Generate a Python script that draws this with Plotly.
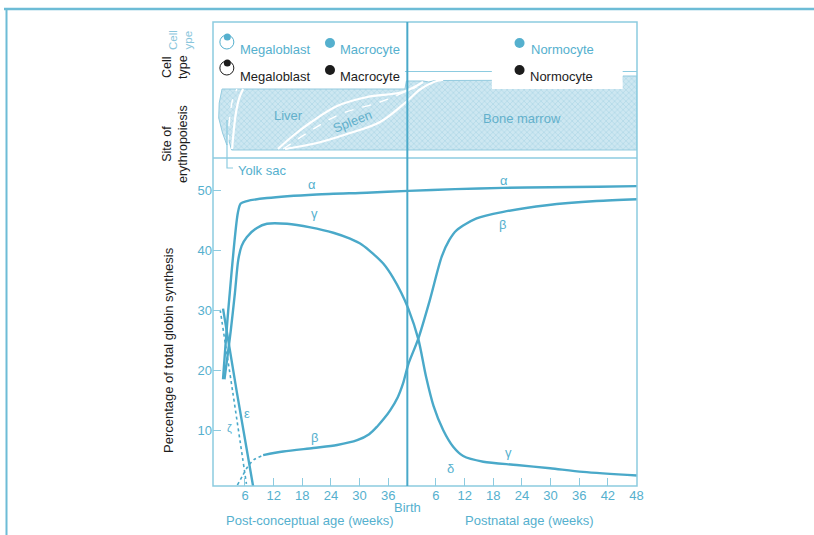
import plotly.graph_objects as go

# ---------------- data (weeks since conception, % of total globin synthesis) ----------------
alpha_weeks = [1.4, 2.6, 4.5, 5.1, 6.4, 10.6, 21.0, 31.5, 40.2, 50.0, 60.0, 70.0, 80.0, 88.1]
alpha_pct = [18.5, 31.0, 46.3, 47.9, 48.3, 48.8, 49.4, 49.7, 50.0, 50.3, 50.5, 50.6, 50.7, 50.8]

gamma_weeks = [1.7, 3.0, 3.9, 4.6, 5.3, 6.4, 8.5, 10.6, 14.8, 19.7, 24.5, 28.0, 30.5, 32.8, 35.0,
               37.0, 38.7, 40.2, 42.3, 43.9, 45.5, 47.5, 49.6, 51.7, 55.9, 62.9, 69.9, 76.8, 88.1]
gamma_pct = [18.5, 26.5, 33.0, 38.5, 40.8, 42.3, 43.8, 44.5, 44.5, 43.9, 43.0, 42.0, 41.0, 39.5, 37.8,
             35.5, 33.0, 30.3, 25.2, 19.0, 14.0, 10.0, 7.2, 5.65, 4.7, 4.15, 3.6, 3.0, 2.4]

beta_weeks = [9.8, 14.0, 20.3, 25.3, 29.5, 32.0, 33.7, 35.2, 36.4, 38.0, 39.1, 40.2, 42.3, 44.7,
              47.2, 48.8, 50.3, 54.5, 60.1, 69.2, 79.6, 88.1]
beta_pct = [5.8, 6.4, 7.0, 7.5, 8.3, 9.3, 10.6, 12.0, 13.3, 15.5, 17.8, 21.0, 25.3, 31.7,
            39.0, 41.8, 43.4, 45.4, 46.5, 47.6, 48.3, 48.6]

beta_early_weeks = [4.4, 5.6, 6.6, 7.8, 9.8]
beta_early_pct = [0.8, 2.5, 3.9, 5.0, 5.8]

epsilon_weeks = [1.4, 4.3, 7.7]
epsilon_pct = [30.3, 16.3, 0.6]

zeta_weeks = [0.8, 3.5, 6.3]
zeta_pct = [30.1, 16.0, 1.0]

prenatal_ticks = [6, 12, 18, 24, 30, 36]
postnatal_ticks = [6, 12, 18, 24, 30, 36, 42, 48]
birth_week = 40
y_ticks = [10, 20, 30, 40, 50]

# ---------------- schematic top panel (weeks, relative height in panel) ----------------
site_weeks = [1.2, 0.6, 0.5, 1.3, 2.2, 2.6, 3.2, 88.1, 88.1, 85.1, 85.1, 46.9, 45.8, 44.5, 43.3, 39.8, 39.5, 1.2]
site_height = [69, 55, 40, 25, 13, 18, 8, 8, 82, 82, 78, 78, 77.5, 76, 77, 77, 69, 69]

yolk_liver_weeks = [3.3, 3.6, 4.1, 4.8, 5.6]
yolk_liver_height = [9, 25, 45, 60, 69]
yolk_inner_weeks = [2.4, 2.6, 3.0, 3.5, 4.3]
yolk_inner_height = [14, 30, 48, 60, 69]

spleen_upper_weeks = [12.9, 16.0, 19.6, 25.3, 31.6, 39.1, 43.3]
spleen_upper_height = [9, 22, 35, 52, 61, 66, 76]
spleen_dash_weeks = [14.0, 20.0, 26.0, 34.3, 41.9]
spleen_dash_height = [9, 28, 44, 56, 71]
marrow_edge_weeks = [14.4, 21.1, 28.0, 34.3, 40.2, 42.5, 45.8, 47.5]
marrow_edge_height = [9, 15, 25, 36, 58, 68, 76.5, 78]

top_rule_weeks = [39.5, 88.1]
top_rule_height = [86.5, 86.5]
normo_box_weeks = [57.7, 85.1, 85.1, 57.7, 57.7]
normo_box_height = [69, 69, 92, 92, 69]

cell_labels = ["Megaloblast", "Macrocyte", "Normocyte"]
cell_label_weeks = [4.5, 25.5, 65.4]
cell_dot_weeks = [23.8, 63.5]

LINE = "#4aa9c9"
TXT = "#55b0ce"
BOX = "#8ccbe0"
BLK = "#1c1c1c"
FONT = "Liberation Sans, Arial, sans-serif"

W, H = 814, 535
L, R, T, B = 213, 177, 22, 49
PW, PH = W - L - R, H - T - B


def px(xp):
    return (xp - L) / PW


def py(yp):
    return (H - B - yp) / PH


split = py(158)

fig = go.Figure()

# ---------------- top panel ----------------
fig.add_trace(go.Scatter(
    x=site_weeks, y=site_height, xaxis="x", yaxis="y2", mode="lines", fill="toself",
    line=dict(color="#94cbdf", width=1), fillcolor="#c8e3ee",
    fillpattern=dict(shape="x", size=4, solidity=0.4, fgcolor="#9ccfe1", bgcolor="#cde7f1"),
    hoverinfo="skip", showlegend=False))

fig.add_trace(go.Scatter(x=top_rule_weeks, y=top_rule_height, xaxis="x", yaxis="y2", mode="lines",
                         line=dict(color=BOX, width=1.2), hoverinfo="skip", showlegend=False))
fig.add_trace(go.Scatter(x=normo_box_weeks, y=normo_box_height, xaxis="x", yaxis="y2", mode="lines",
                         fill="toself", fillcolor="white", line=dict(color="white", width=0),
                         hoverinfo="skip", showlegend=False))

for wx, hy, dash, wd in [
    (yolk_liver_weeks, yolk_liver_height, "solid", 2.2),
    (yolk_inner_weeks, yolk_inner_height, "dash", 1.4),
    (spleen_upper_weeks, spleen_upper_height, "solid", 2.2),
    (spleen_dash_weeks, spleen_dash_height, "dash", 1.4),
    (marrow_edge_weeks, marrow_edge_height, "solid", 2.2),
]:
    fig.add_trace(go.Scatter(x=wx, y=hy, xaxis="x", yaxis="y2", mode="lines",
                             line=dict(color="white", width=wd, dash=dash, shape="spline", smoothing=1.0),
                             hoverinfo="skip", showlegend=False))

# legend-like cell symbols (blue row, black row)
for col, ring_y, dot_y, row_y in [(TXT, 116, 121, 115), (BLK, 90, 95, 88)]:
    fig.add_trace(go.Scatter(x=[2.2], y=[ring_y], xaxis="x", yaxis="y2", mode="markers",
                             marker=dict(symbol="circle-open", size=14, color=col, line=dict(width=1)),
                             hoverinfo="skip", showlegend=False))
    fig.add_trace(go.Scatter(x=[2.3], y=[dot_y], xaxis="x", yaxis="y2", mode="markers",
                             marker=dict(symbol="circle", size=7, color=col),
                             hoverinfo="skip", showlegend=False))
    fig.add_trace(go.Scatter(x=cell_dot_weeks, y=[row_y, row_y], xaxis="x", yaxis="y2", mode="markers",
                             marker=dict(symbol="circle", size=10, color=col),
                             hoverinfo="skip", showlegend=False))

# ---------------- main globin chart ----------------
def curve(xs, ys, dash="solid", width=2.4):
    fig.add_trace(go.Scatter(x=xs, y=ys, mode="lines",
                             line=dict(color=LINE, width=width, dash=dash, shape="spline", smoothing=0.8),
                             hoverinfo="skip", showlegend=False))


curve(alpha_weeks, alpha_pct)
curve(gamma_weeks, gamma_pct)
curve(beta_weeks, beta_pct)
curve(beta_early_weeks, beta_early_pct, dash="dot", width=1.6)
curve(epsilon_weeks, epsilon_pct)
curve(zeta_weeks, zeta_pct, dash="dot", width=1.6)

tickvals = prenatal_ticks + [birth_week + t for t in postnatal_ticks]
ticktext = [str(t) for t in prenatal_ticks] + [str(t) for t in postnatal_ticks]

fig.update_layout(
    width=W, height=H, margin=dict(l=L, r=R, t=T, b=B),
    paper_bgcolor="white", plot_bgcolor="white",
    font=dict(family=FONT, size=13, color=TXT),
    xaxis=dict(range=[-0.7, 88.1], tickvals=tickvals, ticktext=ticktext, ticks="inside", ticklen=8,
               tickcolor=BOX, tickwidth=1.2, showgrid=False, zeroline=False, showline=False,
               tickfont=dict(size=13, color=TXT), anchor="y"),
    yaxis=dict(domain=[0, split], range=[0.64, 55.5], tickvals=y_ticks, ticks="inside", ticklen=8,
               tickcolor=BOX, tickwidth=1.2, showgrid=False, zeroline=False, showline=False,
               tickfont=dict(size=13, color=TXT)),
    yaxis2=dict(domain=[split, 1], range=[0, 136], visible=False, anchor="x"),
)

shapes = [
    dict(type="rect", xref="paper", yref="paper", x0=0, x1=1, y0=0, y1=1,
         line=dict(color=BOX, width=1.5), layer="above"),
    dict(type="line", xref="paper", yref="paper", x0=0, x1=1, y0=split, y1=split,
         line=dict(color=BOX, width=1.5), layer="above"),
    dict(type="line", xref="x", yref="paper", x0=birth_week, x1=birth_week, y0=0, y1=1,
         line=dict(color=LINE, width=2), layer="above"),
    dict(type="line", xref="paper", yref="paper", x0=px(4), x1=px(814), y0=py(9), y1=py(9),
         line=dict(color="#6dbcd6", width=2.5), layer="above"),
    dict(type="line", xref="paper", yref="paper", x0=px(6.5), x1=px(6.5), y0=py(9), y1=py(540),
         line=dict(color="#6dbcd6", width=2), layer="above"),
    dict(type="path", xref="paper", yref="paper",
         path=f"M {px(227)} {py(120)} L {px(227)} {py(168)} L {px(233)} {py(168)}",
         line=dict(color=BOX, width=1.2), layer="above"),
]
fig.update_layout(shapes=shapes)

ann = []


def note(text, x, y, xref="x", yref="y", color=TXT, size=13, angle=0, xanchor="center"):
    ann.append(dict(text=text, x=x, y=y, xref=xref, yref=yref, showarrow=False, textangle=angle,
                    xanchor=xanchor, yanchor="middle", font=dict(family=FONT, size=size, color=color)))


# curve labels
note("α", 20.0, 51.0)
note("α", 60.2, 51.7)
note("γ", 20.6, 46.2)
note("β", 60.0, 44.4)
note("β", 20.6, 8.8)
note("γ", 61.1, 6.3)
note("δ", 49.1, 3.6)
note("ε", 6.4, 12.8)
note("ζ", 2.7, 10.3, size=11)

# top panel labels
for lbl, lx in zip(cell_labels, cell_label_weeks):
    note(lbl, lx, 109, yref="y2", color=TXT, xanchor="left")
    note(lbl, lx - (0.2 if lbl == "Normocyte" else 0), 82, yref="y2", color=BLK, xanchor="left")
note("Liver", 15.1, 43, yref="y2", color="#62b0cb")
note("Spleen", 28.4, 37, yref="y2", color="#62b0cb", angle=-22)
note("Bone marrow", 64.0, 40, yref="y2", color="#62b0cb")
note("Yolk sac", px(262), py(171), xref="paper", yref="paper")

# axis texts
note("Birth", birth_week, py(507), yref="paper")
note("Post-conceptual age (weeks)", px(310), py(520), xref="paper", yref="paper")
note("Postnatal age (weeks)", px(529), py(520), xref="paper", yref="paper")
note("Percentage of total globin synthesis", px(168), py(350), xref="paper", yref="paper",
     color=BLK, size=13, angle=-90)
note("Site of<br>erythropoiesis", px(175), py(144), xref="paper", yref="paper",
     color=BLK, size=12.5, angle=-90)
note("Cell<br>type", px(175), py(67), xref="paper", yref="paper", color=BLK, size=12.5, angle=-90)
note("Cell<br>ype", px(180), py(40), xref="paper", yref="paper", color="#8ac6dc", size=11.5, angle=-90)

fig.update_layout(annotations=ann)

fig.write_html("out.html", config={"displayModeBar": False},
               post_script="document.body.style.margin='0px';")
